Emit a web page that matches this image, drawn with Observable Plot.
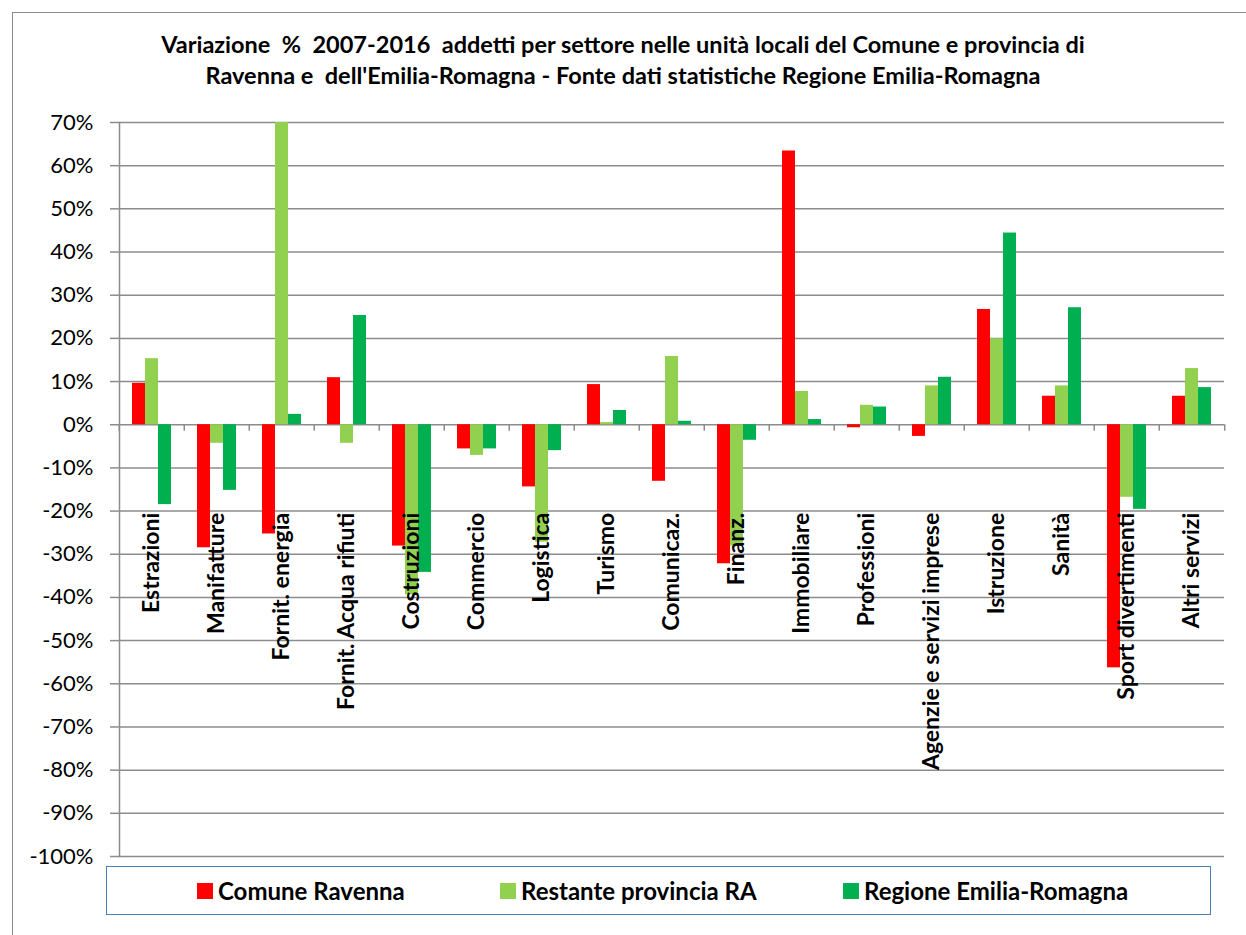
<!DOCTYPE html>
<html>
<head>
<meta charset="utf-8">
<script src="https://cdn.jsdelivr.net/npm/d3@7"></script>
<script src="https://cdn.jsdelivr.net/npm/@observablehq/plot@0.6"></script>
<style>
  html, body { margin: 0; padding: 0; background: #fff; }
  #wrap { position: relative; width: 1246px; height: 935px; overflow: hidden; font-family: Lato, "Open Sans", sans-serif; color: #000; }
  #border { position: absolute; left: 12px; top: 12px; width: 1400px; height: 1100px; border-left: 1.5px solid #8c8c8c; border-top: 1.5px solid #8c8c8c; }
  #title { position: absolute; left: 0; top: 29px; width: 1246px; text-align: center; font-weight: 700; font-size: 23.5px; line-height: 31px; white-space: pre; }
  #chart { position: absolute; left: 0; top: 100px; }
  #legend { position: absolute; left: 106px; top: 866px; width: 1105px; height: 49px; border: 1.5px solid #4a7ebb; box-sizing: border-box; }
  .item { position: absolute; top: 9px; font-weight: 700; font-size: 24px; white-space: pre; display: flex; align-items: center; }
  .sw { display: inline-block; width: 16px; height: 16px; margin-right: 5px; }
</style>
</head>
<body>
<div id="wrap">
  <div id="border"></div>
  <div id="title"></div>
  <div id="chart"></div>
  <div id="legend"></div>
</div>
<script>
const titleLines = [
  "Variazione  %  2007-2016  addetti per settore nelle unità locali del Comune e provincia di",
  "Ravenna e  dell'Emilia-Romagna - Fonte dati statistiche Regione Emilia-Romagna"
];
const categories = [
  "Estrazioni", "Manifatture", "Fornit. energia", "Fornit. Acqua rifiuti", "Costruzioni",
  "Commercio", "Logistica", "Turismo", "Comunicaz.", "Finanz.", "Immobiliare",
  "Professioni", "Agenzie e servizi imprese", "Istruzione", "Sanità",
  "Sport divertimenti", "Altri servizi"
];
const series = ["Comune Ravenna", "Restante provincia RA", "Regione Emilia-Romagna"];
const colors = ["#ff0000", "#92d050", "#00b050"];
const comuneRavenna = [9.6, -28.5, -25.3, 10.9, -28.1, -5.6, -14.4, 9.3, -13.1, -32.2, 63.4, -0.7, -2.7, 26.7, 6.6, -56.3, 6.6];
const restanteProvincia = [15.3, -4.3, 70, -4.3, -39.4, -7.1, -27.2, 0.5, 15.8, -28.1, 7.7, 4.5, 9.0, 19.9, 9.0, -16.8, 13.0];
const regioneER = [-18.5, -15.2, 2.4, 25.3, -34.2, -5.6, -6.0, 3.3, 0.8, -3.6, 1.2, 4.1, 11.0, 44.4, 27.1, -19.6, 8.6];
const yTicks = [-100, -90, -80, -70, -60, -50, -40, -30, -20, -10, 0, 10, 20, 30, 40, 50, 60, 70];

const seriesValues = [comuneRavenna, restanteProvincia, regioneER];
const data = categories.flatMap((c, i) => series.map((s, j) => ({category: c, series: s, value: seriesValues[j][i]})));

document.getElementById("title").textContent = titleLines.join("\n");

const W = 1246, H = 770, mL = 115, mR = 18, mT = 22, mB = 14;
const halfStep = (W - mL - mR) / categories.length / 2;

const chart = Plot.plot({
  width: W, height: H,
  marginTop: mT, marginBottom: mB, marginLeft: mL, marginRight: mR,
  style: {fontFamily: "Lato, 'Open Sans', sans-serif", color: "#000", background: "transparent"},
  fx: {domain: categories, padding: 0, axis: null},
  x: {domain: series, paddingInner: 0, paddingOuter: 0.84, axis: null},
  y: {domain: [-100, 70], axis: null},
  color: {domain: series, range: colors},
  marks: [
    Plot.gridY(yTicks, {stroke: "#8c8c8c", strokeOpacity: 1, strokeWidth: 1.5}),
    Plot.barY(data, {fx: "category", x: "series", y: "value", fill: "series"}),
    Plot.axisY(yTicks, {label: null, tickFormat: d => d + "%", tickSize: 9, tickPadding: 17, stroke: "#8c8c8c", strokeWidth: 1.5, fontSize: 22, fill: "#000"}),
    Plot.frame({anchor: "left", facetAnchor: "left", stroke: "#8c8c8c", strokeWidth: 1.5}),
    Plot.ruleX([0], {x: null, y1: 0, y2: -1.5, dx: -halfStep, stroke: "#8c8c8c", strokeWidth: 1.5}),
    Plot.ruleX([0], {x: null, y1: 0, y2: -1.5, dx: halfStep, facetAnchor: "right", stroke: "#8c8c8c", strokeWidth: 1.5}),
    Plot.text(categories, {fx: d => d, y: 0, text: d => d, rotate: -90, textAnchor: "end", dy: 88, fontSize: 23, fontWeight: 700, fill: "#000"})
  ]
});
document.getElementById("chart").appendChild(chart);

const legend = document.getElementById("legend");
const legendLeft = [90, 393, 736];
series.forEach((s, i) => {
  const item = document.createElement("div");
  item.className = "item";
  item.style.left = legendLeft[i] + "px";
  const sw = document.createElement("span");
  sw.className = "sw";
  sw.style.background = colors[i];
  const t = document.createElement("span");
  t.textContent = s;
  item.appendChild(sw);
  item.appendChild(t);
  legend.appendChild(item);
});
</script>
</body>
</html>
